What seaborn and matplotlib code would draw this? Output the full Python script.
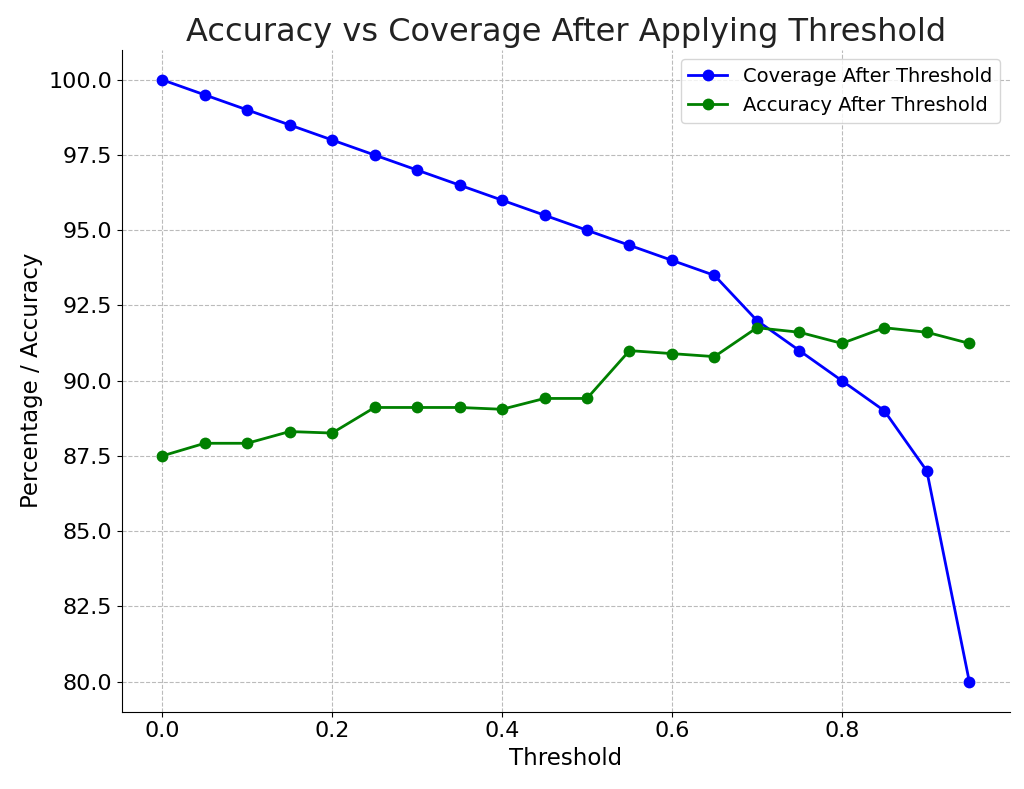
import pandas as pd
import seaborn as sns
import matplotlib.pyplot as plt

# Datos
thresholds = [0.0, 0.05, 0.1, 0.15, 0.2, 0.25, 0.3, 0.35, 0.4, 0.45,
              0.5, 0.55, 0.6, 0.65, 0.7, 0.75, 0.8, 0.85, 0.9, 0.95]
coverage = [100.0, 99.5, 99.0, 98.5, 98.0, 97.5, 97.0, 96.5, 96.0, 95.5,
            95.0, 94.5, 94.0, 93.5, 92.0, 91.0, 90.0, 89.0, 87.0, 80.0]
accuracy = [87.5, 87.92, 87.92, 88.31, 88.26, 89.11, 89.11, 89.11, 89.05, 89.41,
            89.41, 91.0, 90.9, 90.8, 91.76, 91.61, 91.24, 91.76, 91.61, 91.24]

df = pd.DataFrame({'Threshold': thresholds,
                   'Coverage After Threshold': coverage,
                   'Accuracy After Threshold': accuracy})

fig, ax = plt.subplots(figsize=(10.24, 7.89), dpi=100)

sns.lineplot(data=df, x='Threshold', y='Coverage After Threshold', marker='o',
             color='blue', linewidth=2, markersize=8.5, markeredgewidth=0,
             label='Coverage After Threshold', ax=ax)
sns.lineplot(data=df, x='Threshold', y='Accuracy After Threshold', marker='o',
             color='green', linewidth=2, markersize=8.5, markeredgewidth=0,
             label='Accuracy After Threshold', ax=ax)

ax.set_title('Accuracy vs Coverage After Applying Threshold', fontsize=23, color='#222222')
ax.set_xlabel('Threshold', fontsize=16.5)
ax.set_ylabel('Percentage / Accuracy', fontsize=16.5)
ax.tick_params(labelsize=16)
ax.grid(True, linestyle='--', color='#bbbbbb', linewidth=0.8)
ax.spines['top'].set_visible(False)
ax.spines['right'].set_visible(False)
ax.legend(fontsize=14, loc='upper right', handlelength=2)

plt.subplots_adjust(left=0.119, right=0.986, bottom=0.098, top=0.937)
plt.savefig('out.png', dpi=100)
